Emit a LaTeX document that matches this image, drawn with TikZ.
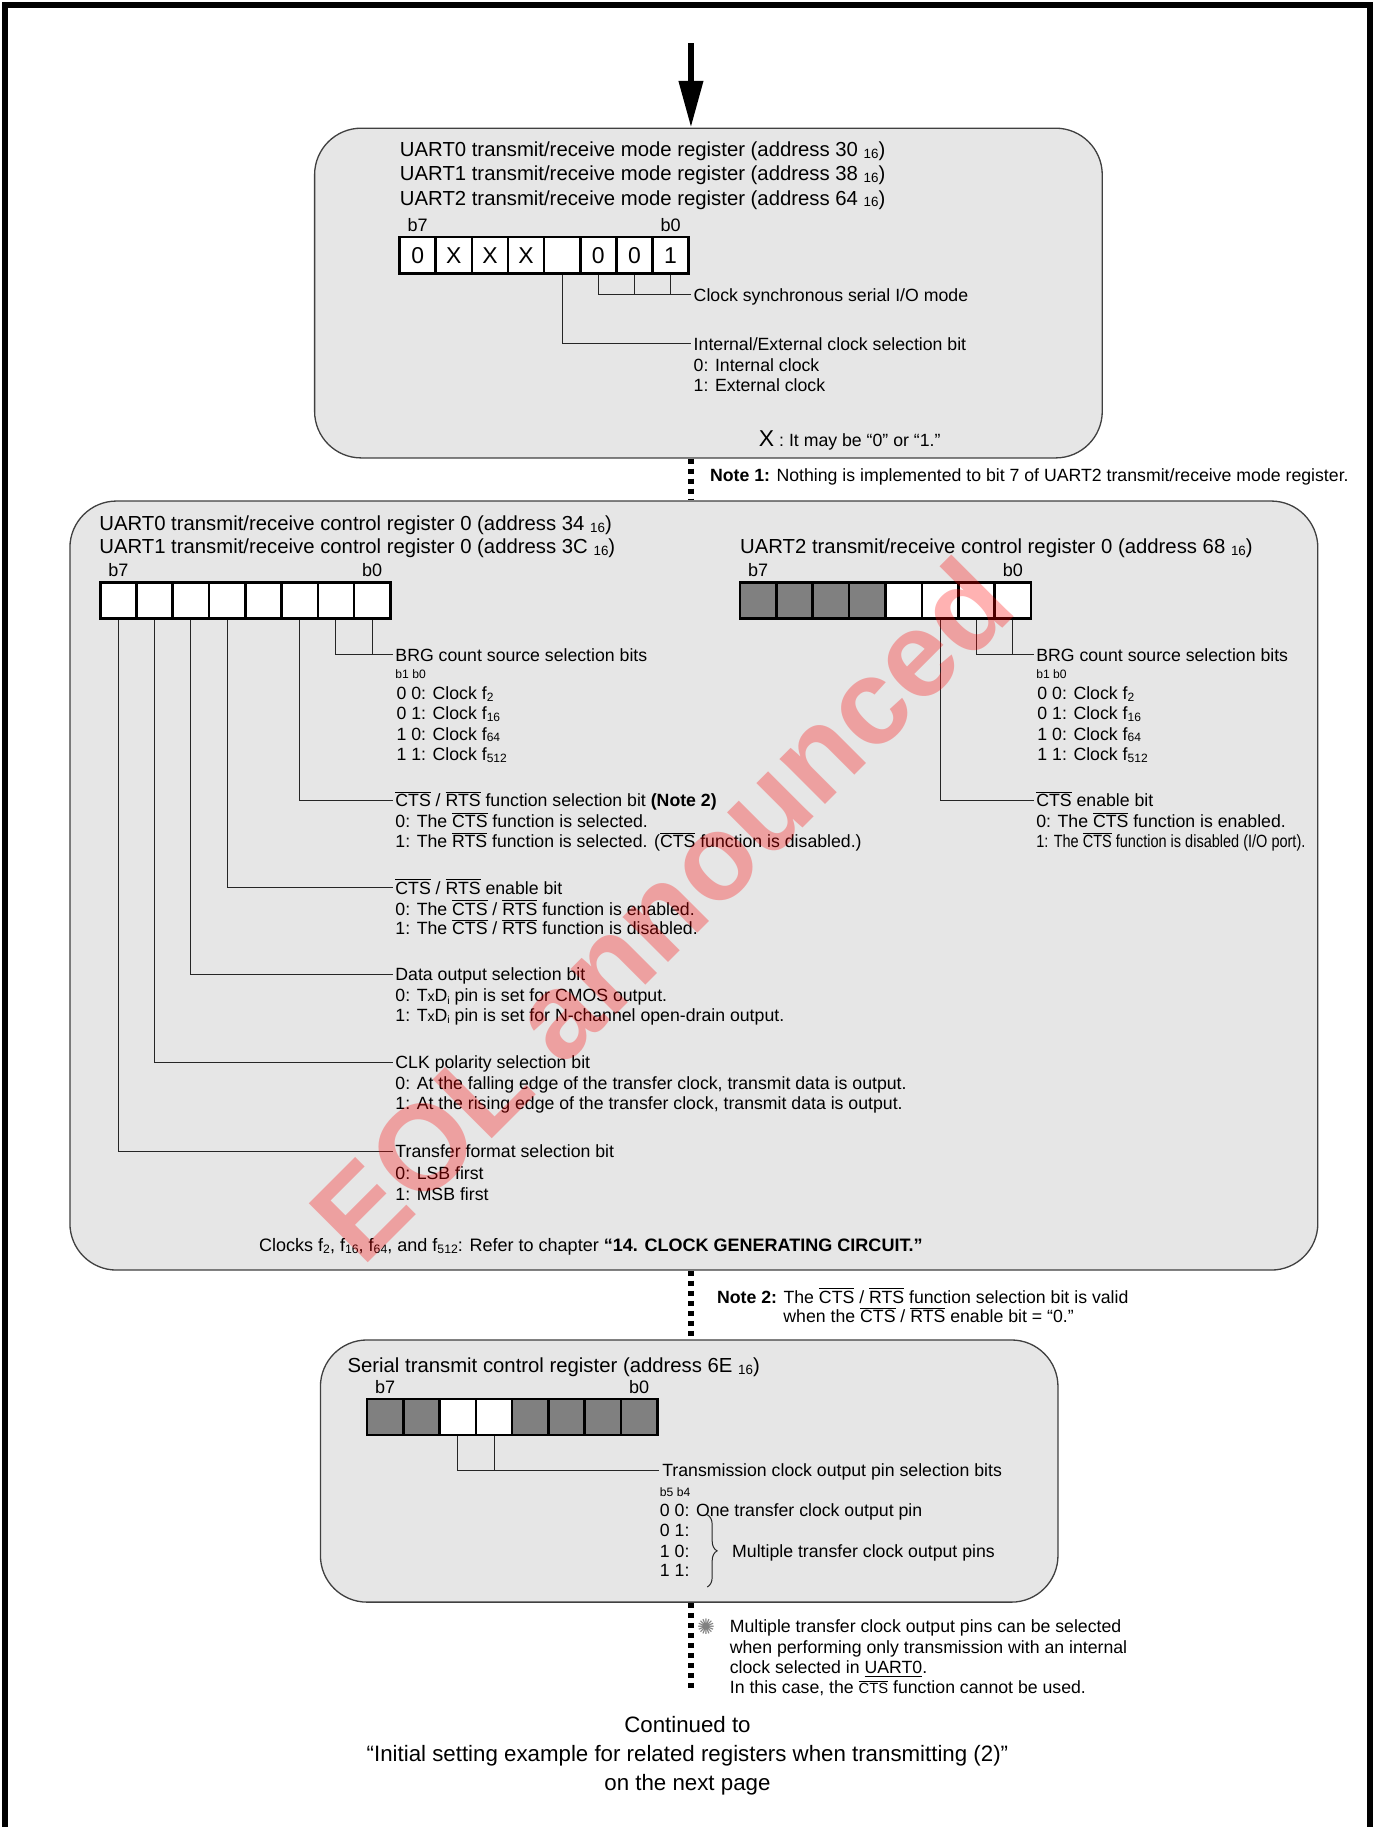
\documentclass[tikz,border=0pt]{standalone}
\usepackage{fontspec}
\setmainfont{Liberation Sans}
\newfontfamily\symfont{DejaVu Sans}
\usepackage{graphicx}
\usepackage{tikz}
\usetikzlibrary{positioning,arrows.meta,fit,decorations.pathreplacing}
\definecolor{regbg}{HTML}{E6E6E6}
\definecolor{cellgray}{HTML}{808080}
\newcommand{\hexs}[1]{~\raisebox{-0.15ex}{\scalebox{0.66}{#1}}}
\newcommand{\fclk}[1]{f\raisebox{-0.2ex}{\scalebox{0.68}{#1}}}
\newcommand{\ovl}[1]{$\overline{\mbox{#1}}$}
\newcommand{\txd}{T\scalebox{0.8}{x}D\raisebox{-0.3ex}{\scalebox{0.6}{i}}}

\begin{document}
\begin{tikzpicture}[
  x=0.025cm, y=-0.025cm,
  regbox/.style={draw=black!75, line width=0.8pt, fill=regbg, rounded corners=1cm, inner sep=0pt},
  bitcell/.style={draw, line width=1.6pt, fill=white, minimum width=0.778cm, minimum height=0.775cm, inner sep=0pt, font=\fontsize{14}{14}\selectfont},
  offcell/.style={bitcell, fill=cellgray},
  ttl/.style={anchor=west, inner sep=0pt, text height=8.9pt, text depth=0pt, font=\fontsize{12.4}{14.9}\selectfont},
  lbl/.style={anchor=west, inner xsep=1.5pt, inner ysep=0pt, text height=7.7pt, text depth=0pt, font=\fontsize{10.8}{12.4}\selectfont},
  bitno/.style={inner sep=0pt, text height=7.9pt, text depth=0pt, font=\fontsize{11}{11}\selectfont},
  bitpair/.style={anchor=west, inner xsep=1.5pt, inner ysep=0pt, font=\fontsize{7.4}{7.4}\selectfont},
  cont/.style={inner sep=0pt, text height=9.7pt, text depth=0pt, font=\fontsize{13.6}{16}\selectfont},
  wire/.style={draw=black!85, line width=0.6pt},
  dots/.style={line width=0.11cm, dash pattern=on 0.11cm off 0.105cm},
  arrow/.style={line width=0.13cm, -{Triangle[length=1cm, width=0.5cm]}}
]
  \useasboundingbox (0,0) rectangle (1180,1568);

  % Frame and boxes
  \draw[line width=0.125cm] (4,1568) -- (4,4) -- (1176,4) -- (1176,1568);
  \coordinate (topin) at (593,37);
  \node[regbox, fit={(270,110) (946,393)}] (box1) {};
  \node[regbox, fit={(60,430) (1131,1090)}] (box2) {};
  \node[regbox, fit={(275,1150) (908,1375)}] (box3) {};
  \coordinate (dotend) at (593,1452);

  \draw[arrow] (topin) -- (box1.north -| topin);
  \draw[dots] (box1.south -| topin) -- (box2.north -| topin);
  \draw[dots] (box2.south -| topin) -- (box3.north -| topin);
  \draw[dots] (box3.south -| topin) -- (dotend);

  % Mode register
  \node[ttl] (mt0) at (343,128) {UART0 transmit/receive mode register (address 30\hexs{16})};
  \node[ttl] (mt1) at (343,149) {UART1 transmit/receive mode register (address 38\hexs{16})};
  \node[ttl] (mt2) at (343,170) {UART2 transmit/receive mode register (address 64\hexs{16})};
  \foreach \b/\v in {7/0,6/X,5/X,4/X,3/{},2/0,1/0,0/1}
    \node[bitcell] (mr\b) at ({358.5+(7-\b)*31},219) {\v};
  \node[bitno, above=2.5pt of mr7] (mb7) {b7};
  \node[bitno, above=2.5pt of mr0] (mb0) {b0};

  \node[lbl] (csync) at (593,253) {Clock synchronous serial I/O mode};
  \draw[wire] (mr2.south) |- (csync.west);
  \draw[wire] (mr1.south) -- (mr1.south |- csync.west);
  \draw[wire] (mr0.south) -- (mr0.south |- csync.west);

  \node[lbl] (iesel) at (593,295) {Internal/External clock selection bit};
  \draw[wire] (mr3.south) |- (iesel.west);
  \node[lbl] (iesel0) at (593,313) {0: Internal clock};
  \node[lbl] (iesel1) at (593,331) {1: External clock};

  \node[lbl] (xnote) at (649,378) {{\fontsize{14}{14}\selectfont X} : It may be “0” or “1.”};
  \node[lbl] (note1) at (607,408) {\textbf{Note 1:} Nothing is implemented to bit 7 of UART2 transmit/receive mode register.};

  % Control register 0
  \node[ttl] (ct0) at (85,449) {UART0 transmit/receive control register 0 (address 34\hexs{16})};
  \node[ttl] (ct1) at (85,469) {UART1 transmit/receive control register 0 (address 3C\hexs{16})};
  \node[ttl] (ct2) at (635,469) {UART2 transmit/receive control register 0 (address 68\hexs{16})};
  \foreach \b in {7,...,0}
    \node[bitcell] (ca\b) at ({101.6+(7-\b)*31.125},515.5) {};
  \foreach \b/\s in {7/offcell,6/offcell,5/offcell,4/offcell,3/bitcell,2/bitcell,1/bitcell,0/bitcell}
    \node[\s] (cb\b) at ({650.6+(7-\b)*31.25},515.5) {};
  \node[bitno, above=2.5pt of ca7] (cab7) {b7};
  \node[bitno, above=2.5pt of ca0] (cab0) {b0};
  \node[bitno, above=2.5pt of cb7] (cbb7) {b7};
  \node[bitno, above=2.5pt of cb0] (cbb0) {b0};

  % left: UART0/UART1
  \node[lbl] (brga) at (337,562) {BRG count source selection bits};
  \draw[wire] (ca1.south) |- (brga.west);
  \draw[wire] (ca0.south) -- (ca0.south |- brga.west);
  \node[bitpair] (brgab) at (337,579) {b1 b0};
  \foreach \code/\fsub [count=\k] in {0 0/2,0 1/16,1 0/64,1 1/512}
    \node[lbl] (clka\k) at (338,{577.5+17.4*\k}) {\code: Clock \fclk{\fsub}};

  \node[lbl] (ctssel) at (337,687) {\ovl{CTS} / \ovl{RTS} function selection bit \textbf{(Note 2)}};
  \draw[wire] (ca2.south) |- (ctssel.west);
  \node[lbl] (ctssel0) at (337,705) {0: The \ovl{CTS} function is selected.};
  \node[lbl] (ctssel1) at (337,722) {1: The \ovl{RTS} function is selected. (\ovl{CTS} function is disabled.)};

  \node[lbl] (ctsen) at (337,762) {\ovl{CTS} / \ovl{RTS} enable bit};
  \draw[wire] (ca4.south) |- (ctsen.west);
  \node[lbl] (ctsen0) at (337,780) {0: The \ovl{CTS} / \ovl{RTS} function is enabled.};
  \node[lbl] (ctsen1) at (337,797) {1: The \ovl{CTS} / \ovl{RTS} function is disabled.};

  \node[lbl] (dout) at (337,836) {Data output selection bit};
  \draw[wire] (ca5.south) |- (dout.west);
  \node[lbl] (dout0) at (337,854) {0: \txd{} pin is set for CMOS output.};
  \node[lbl] (dout1) at (337,871) {1: \txd{} pin is set for N-channel open-drain output.};

  \node[lbl] (ckpol) at (337,912) {CLK polarity selection bit};
  \draw[wire] (ca6.south) |- (ckpol.west);
  \node[lbl] (ckpol0) at (337,930) {0: At the falling edge of the transfer clock, transmit data is output.};
  \node[lbl] (ckpol1) at (337,947) {1: At the rising edge of the transfer clock, transmit data is output.};

  \node[lbl] (uform) at (337,988) {Transfer format selection bit};
  \draw[wire] (ca7.south) |- (uform.west);
  \node[lbl] (uform0) at (337,1007) {0: LSB first};
  \node[lbl] (uform1) at (337,1025) {1: MSB first};

  \node[lbl, font=\fontsize{11}{13}\selectfont] (clknote) at (220,1069) {Clocks \fclk{2}, \fclk{16}, \fclk{64}, and \fclk{512}: Refer to chapter \textbf{“14. CLOCK GENERATING CIRCUIT.”}};

  % right: UART2
  \node[lbl] (brgb) at (887,562) {BRG count source selection bits};
  \draw[wire] (cb1.south) |- (brgb.west);
  \draw[wire] (cb0.south) -- (cb0.south |- brgb.west);
  \node[bitpair] (brgbb) at (887,579) {b1 b0};
  \foreach \code/\fsub [count=\k] in {0 0/2,0 1/16,1 0/64,1 1/512}
    \node[lbl] (clkb\k) at (888,{577.5+17.4*\k}) {\code: Clock \fclk{\fsub}};

  \node[lbl] (ctsenb) at (887,687) {\ovl{CTS} enable bit};
  \draw[wire] (cb2.south) |- (ctsenb.west);
  \node[lbl] (ctsenb0) at (887,705) {0: The \ovl{CTS} function is enabled.};
  \node[lbl] (ctsenb1) at (887,722) {\scalebox{0.82}[1]{1: The \ovl{CTS} function is disabled (I/O port).}};

  \node[lbl] (note2a) at (613,1113) {\textbf{Note 2:} The \ovl{CTS} / \ovl{RTS} function selection bit is valid};
  \node[lbl] (note2b) at (670,1130) {when the \ovl{CTS} / \ovl{RTS} enable bit = “0.”};

  % Serial transmit control register
  \node[ttl] (st) at (298,1172) {Serial transmit control register (address 6E\hexs{16})};
  \foreach \b/\s in {7/offcell,6/offcell,5/bitcell,4/bitcell,3/offcell,2/offcell,1/offcell,0/offcell}
    \node[\s] (sc\b) at ({330.6+(7-\b)*31.125},1216) {};
  \node[bitno, above=2.5pt of sc7] (scb7) {b7};
  \node[bitno, above=2.5pt of sc0] (scb0) {b0};

  \node[lbl] (tclk) at (566,1262) {Transmission clock output pin selection bits};
  \draw[wire] (sc5.south) |- (tclk.west);
  \draw[wire] (sc4.south) -- (sc4.south |- tclk.west);
  \node[bitpair] (tclkb) at (564,1281) {b5 b4};
  \node[lbl] (tclk0) at (564,1296) {0 0: One transfer clock output pin};
  \node[lbl] (tclk1) at (564,1313) {0 1:};
  \node[lbl] (tclk2) at (564,1331) {1 0:};
  \node[lbl] (tclk3) at (564,1348) {1 1:};
  \draw[wire, decorate, decoration={brace, amplitude=6pt}] (607,1300) -- (607,1362);
  \node[lbl] (multi) at (626,1331) {Multiple transfer clock output pins};

  \node[inner sep=0pt, text=gray, font=\symfont\fontsize{13}{13}\selectfont] (star) at (606,1396) {✺};
  \node[lbl] (sn1) at (624,1396) {Multiple transfer clock output pins can be selected};
  \node[lbl] (sn2) at (624,1414) {when performing only transmission with an internal};
  \node[lbl] (sn3) at (624,1431) {clock selected in \underline{UART0}.};
  \node[lbl] (sn4) at (624,1448) {In this case, the {\small\ovl{CTS}} function cannot be used.};

  % Continuation
  \node[cont] (cont1) at (590,1480) {Continued to};
  \node[cont] (cont2) at (590,1505) {“Initial setting example for related registers when transmitting (2)”};
  \node[cont] (cont3) at (590,1530) {on the next page};

  % Watermark
  \node[rotate=45, text=red, text opacity=0.3, font=\fontsize{74}{74}\selectfont\bfseries] (eol) at (567,780) {EOL announced};
\end{tikzpicture}
\end{document}
